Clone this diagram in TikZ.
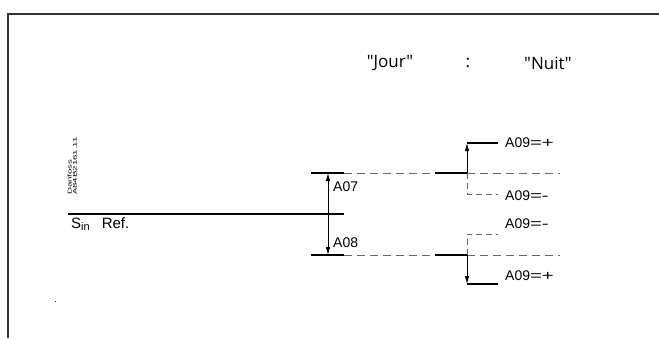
\documentclass[tikz,border=0pt]{standalone}
\usepackage{fontspec}
\usepackage{graphicx}
\setmainfont{Liberation Sans}
\newfontfamily\titlefont{Open Sans}
\usetikzlibrary{arrows.meta}
\newcommand{\wideop}[1]{\scalebox{1.45}[1]{#1}}
\begin{document}
\begin{tikzpicture}[x=1pt,y=-1pt,
  frame/.style={line width=1.4pt,draw=black!80},
  level/.style={line width=1.6pt},
  guide/.style={line width=0.8pt,draw=black!60,dash pattern=on 8pt off 5pt},
  shortguide/.style={line width=0.8pt,draw=black!60,dash pattern=on 6pt off 4pt},
  movearrow/.style={line width=0.8pt,-{Latex[length=8pt,width=4.5pt]}},
  lbl/.style={font=\fontsize{14}{14}\selectfont,anchor=west,inner sep=0pt},
  head/.style={font=\titlefont\fontsize{17}{17}\selectfont,inner sep=0pt}]
\useasboundingbox (0,0) rectangle (659,338);
% frame
\coordinate (fTL) at (8,14);
\coordinate (fTR) at (659,14);
\coordinate (fBL) at (8,338);
\draw[frame] (fTR) -- (fTL) -- (fBL);
\fill[black!80] (54.5,300.5) rectangle (56,302);
% headings
\node[head] (jour) at (390,63) {"Jour"};
\node[head] (colon) at (468,63) {:};
\node[head] (nuit) at (548,63) {"Nuit"};
% Danfoss stamp
\node[rotate=90,inner sep=0pt] (stamp) at (73,166)
  {\scalebox{1.75}[1]{\fontsize{5.5}{5.2}\selectfont\begin{tabular}{@{}l@{}}Danfoss\\A84B2161.11\end{tabular}}};
% reference line
\coordinate (s0) at (68,214);
\coordinate (s1) at (344,214);
\draw[level] (s0) -- (s1);
\node[anchor=base west,inner sep=0pt,font=\fontsize{15}{15}\selectfont] (sin) at (71,228)
  {S\raisebox{-0.3ex}{\fontsize{11}{11}\selectfont in}\hspace{12pt}Ref.};
% upper level (A07)
\coordinate (u0) at (311,173);
\coordinate (u1) at (344,173);
\coordinate (u2) at (435,173);
\coordinate (u3) at (467,173);
\coordinate (u4) at (560,173);
\draw[level] (u0) -- (u1);
\draw[guide] (u1) -- (u2);
\draw[level] (u2) -- (u3);
\draw[guide] (u3) -- (u4);
% lower level (A08)
\coordinate (l0) at (311,255);
\coordinate (l1) at (344,255);
\coordinate (l2) at (435,255);
\coordinate (l3) at (467,255);
\coordinate (l4) at (560,255);
\draw[level] (l0) -- (l1);
\draw[guide] (l1) -- (l2);
\draw[level] (l2) -- (l3);
\draw[guide] (l3) -- (l4);
% A07 / A08 arrows
\coordinate (am) at (328,214);
\coordinate (au) at (328,173);
\coordinate (ad) at (328,255);
\draw[movearrow] (am) -- (au);
\draw[movearrow] (am) -- (ad);
\node[lbl] (a07) at (333,187) {A07};
\node[lbl] (a08) at (333,243) {A08};
% A09 upper
\coordinate (p0) at (467,143);
\coordinate (p1) at (498,143);
\coordinate (m0) at (467,194);
\coordinate (m1) at (498,194);
\draw[movearrow] (u3) -- (p0);
\draw[level] (p0) -- (p1);
\draw[shortguide] (u3) -- (m0) -- (m1);
\node[lbl] (a09p1) at (505,143) {A09\wideop{=+}};
\node[lbl] (a09m1) at (505,196) {A09\wideop{=-}};
% A09 lower
\coordinate (q0) at (467,234);
\coordinate (q1) at (498,234);
\coordinate (r0) at (467,284);
\coordinate (r1) at (498,284);
\draw[shortguide] (l3) -- (q0) -- (q1);
\draw[movearrow] (l3) -- (r0);
\draw[level] (r0) -- (r1);
\node[lbl] (a09m2) at (505,224) {A09\wideop{=-}};
\node[lbl] (a09p2) at (505,276) {A09\wideop{=+}};
\end{tikzpicture}
\end{document}
